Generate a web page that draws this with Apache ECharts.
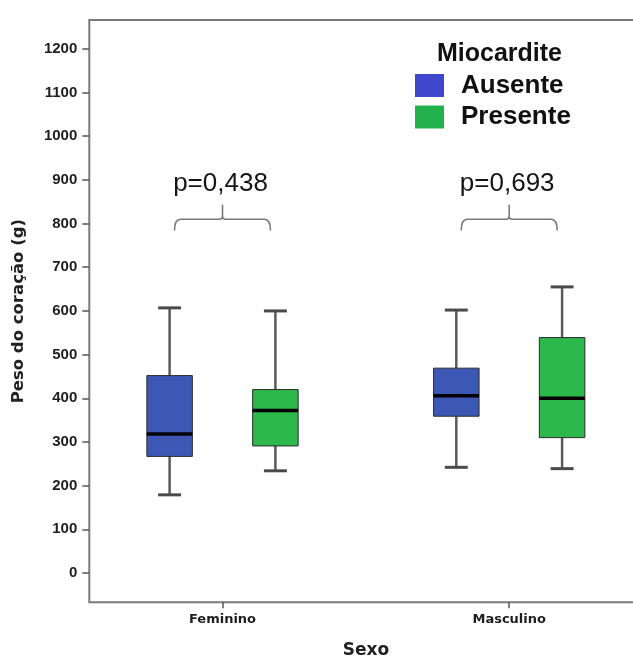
<!DOCTYPE html>
<html>
<head>
<meta charset="utf-8">
<script src="https://cdn.jsdelivr.net/npm/echarts@6/dist/echarts.min.js"></script>
<style>
  html, body { margin: 0; padding: 0; background: #fff; }
  #chart { width: 633px; height: 659px; }
</style>
</head>
<body>
<div id="chart"></div>
<script>
// ---- data ----
const categories = ['Feminino', 'Masculino'];
// each box: [min, Q1, median, Q3, max]
const ausente = [[179, 267, 318, 452, 607], [242, 359, 406, 469, 602]];
const presente = [[234, 291, 372, 420, 600], [239, 310, 400, 539, 655]];
const pValues = ['p=0,438', 'p=0,693'];
const yTicks = [0, 100, 200, 300, 400, 500, 600, 700, 800, 900, 1000, 1100, 1200];
const seriesNames = ['Ausente', 'Presente'];

// ---- styles ----
const BLUE = '#3d57b5';
const GREEN = '#2cb84a';
const LEG_BLUE = '#3f48cc';
const LEG_GREEN = '#22b14c';

function boxRenderer(side, fill) {
  return function (params, api) {
    const ci = api.value(0);
    const band = api.size([1, 0])[0];
    const cx = api.coord([ci, 0])[0] + side * 0.1845 * band;
    const bw = 0.1587 * band;
    const cw = 0.08 * band;
    const y = k => api.coord([ci, api.value(k)])[1];
    const yMin = y(1), yQ1 = y(2), yMed = y(3), yQ3 = y(4), yMax = y(5);
    const whisk = { stroke: '#5a5a5a', lineWidth: 2.5 };
    const cap = { stroke: '#4a4a4a', lineWidth: 3 };
    return {
      type: 'group',
      children: [
        { type: 'line', shape: { x1: cx, y1: yQ3, x2: cx, y2: yMax }, style: whisk },
        { type: 'line', shape: { x1: cx, y1: yQ1, x2: cx, y2: yMin }, style: whisk },
        { type: 'line', shape: { x1: cx - cw / 2, y1: yMax, x2: cx + cw / 2, y2: yMax }, style: cap },
        { type: 'line', shape: { x1: cx - cw / 2, y1: yMin, x2: cx + cw / 2, y2: yMin }, style: cap },
        { type: 'rect', shape: { x: cx - bw / 2, y: yQ3, width: bw, height: yQ1 - yQ3 },
          style: { fill: fill, stroke: '#2b2b2b', lineWidth: 1 } },
        { type: 'line', shape: { x1: cx - bw / 2, y1: yMed, x2: cx + bw / 2, y2: yMed },
          style: { stroke: '#000', lineWidth: 3.5 } }
      ]
    };
  };
}

// annotation levels (value units)
const BR = { line: 810, end: 784, top: 843, text: 890 };
function bracketRenderer(params, api) {
  const ci = api.value(0);
  const band = api.size([1, 0])[0];
  const xc = api.coord([ci, 0])[0];
  const hw = 0.1674 * band;
  const yL = api.coord([ci, BR.line])[1];
  const yE = api.coord([ci, BR.end])[1];
  const yT = api.coord([ci, BR.top])[1];
  const yX = api.coord([ci, BR.text])[1];
  const x0 = xc - hw, x1 = xc + hw;
  const d = 'M' + x0 + ' ' + yE + ' Q' + x0 + ' ' + yL + ' ' + (x0 + 6) + ' ' + yL +
            ' L' + (xc - 3) + ' ' + yL + ' Q' + xc + ' ' + yL + ' ' + xc + ' ' + (yL - 3) +
            ' L' + xc + ' ' + yT +
            ' M' + xc + ' ' + (yL - 3) + ' Q' + xc + ' ' + yL + ' ' + (xc + 3) + ' ' + yL +
            ' L' + (x1 - 6) + ' ' + yL + ' Q' + x1 + ' ' + yL + ' ' + x1 + ' ' + yE;
  return {
    type: 'group',
    children: [
      { type: 'path', shape: { pathData: d }, style: { fill: 'none', stroke: '#7a7a7a', lineWidth: 1.6 } },
      { type: 'text', style: { text: pValues[params.dataIndex], x: xc - 2, y: yX, align: 'center', verticalAlign: 'middle',
          font: '26px "Liberation Sans", Arial, sans-serif', fill: '#151515' } }
    ]
  };
}

const chart = echarts.init(document.getElementById('chart'), null, { renderer: 'canvas' });
chart.setOption({
  animation: false,
  backgroundColor: '#ffffff',
  title: {
    text: 'Miocardite', left: 437, top: 42, padding: 0,
    textStyle: { fontSize: 25, fontWeight: 'bold', fontFamily: '"Liberation Sans", Arial, sans-serif', color: '#111' }
  },
  legend: {
    orient: 'vertical', left: 415, top: 72.5, padding: 0,
    itemWidth: 29, itemHeight: 23, itemGap: 5.5, icon: 'rect',
    data: [
      { name: seriesNames[0], itemStyle: { color: LEG_BLUE } },
      { name: seriesNames[1], itemStyle: { color: LEG_GREEN } }
    ],
    textStyle: { fontSize: 26, lineHeight: 26, fontWeight: 'bold', fontFamily: '"Liberation Sans", Arial, sans-serif',
                 color: '#111', padding: [0, 0, 0, 12] },
    selectedMode: false
  },
  grid: [
    { left: 79.15, right: -19.55, top: 20, bottom: 56.7, containLabel: false, outerBoundsMode: 'none' },
    { left: 89.3, right: -40, top: 20, bottom: 56.7, containLabel: false, outerBoundsMode: 'none',
      show: true, borderColor: '#7a7a7a', borderWidth: 2, backgroundColor: 'transparent' }
  ],
  xAxis: [
    {
      gridIndex: 0, type: 'category', data: categories, position: 'bottom',
      axisLine: { show: false, onZero: false },
      axisTick: { show: true, alignWithLabel: true, length: 6, lineStyle: { color: '#555', width: 1.5 } },
      axisLabel: { margin: 11, fontSize: 13, fontWeight: 'bold', fontFamily: '"DejaVu Sans", Verdana, sans-serif', color: '#1e1e1e' },
      splitLine: { show: false },
      name: 'Sexo', nameLocation: 'middle', nameGap: 40,
      nameTextStyle: { fontSize: 17, fontWeight: 'bold', fontFamily: '"DejaVu Sans", Verdana, sans-serif', color: '#222' }
    },
    { gridIndex: 1, type: 'value', show: false, min: 0, max: 1 }
  ],
  yAxis: [
    {
      gridIndex: 0, type: 'value', min: -67, max: 1266, offset: -10.15,
      axisLine: { show: false, onZero: false },
      axisTick: { show: true, customValues: yTicks, length: 7, lineStyle: { color: '#555', width: 1.5 } },
      axisLabel: { customValues: yTicks, formatter: v => String(v), margin: 12, fontSize: 15, fontWeight: 'bold',
                   fontFamily: '"Liberation Sans", Arial, sans-serif', color: '#1e1e1e' },
      splitLine: { show: false },
      name: 'Peso do coração (g)', nameLocation: 'middle', nameGap: 62, nameRotate: 90,
      nameTextStyle: { fontSize: 16.5, fontWeight: 'bold', fontFamily: '"DejaVu Sans", Verdana, sans-serif', color: '#222' }
    },
    { gridIndex: 1, type: 'value', show: false, min: 0, max: 1 }
  ],
  series: [
    {
      type: 'custom', name: seriesNames[0], xAxisIndex: 0, yAxisIndex: 0, silent: true,
      itemStyle: { color: LEG_BLUE },
      renderItem: boxRenderer(-1, BLUE),
      encode: { x: 0, y: [1, 2, 3, 4, 5] },
      data: ausente.map((d, i) => [i].concat(d))
    },
    {
      type: 'custom', name: seriesNames[1], xAxisIndex: 0, yAxisIndex: 0, silent: true,
      itemStyle: { color: LEG_GREEN },
      renderItem: boxRenderer(1, GREEN),
      encode: { x: 0, y: [1, 2, 3, 4, 5] },
      data: presente.map((d, i) => [i].concat(d))
    },
    {
      type: 'custom', name: 'pvalues', xAxisIndex: 0, yAxisIndex: 0, silent: true,
      renderItem: bracketRenderer,
      encode: { x: 0, y: 1 },
      data: pValues.map((p, i) => ({ name: p, value: [i, 0] }))
    }
  ]
});
</script>
</body>
</html>
